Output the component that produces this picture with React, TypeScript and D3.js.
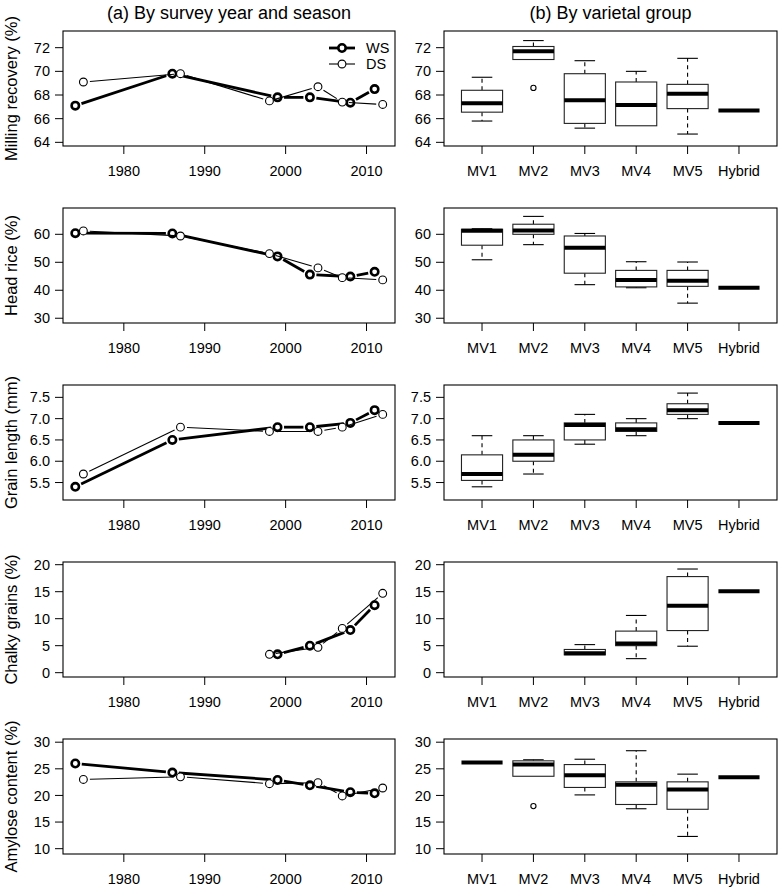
import React from "react";
import * as d3 from "d3";

// survey years (wet season / dry season)
const wsYears = [1974, 1986, 1999, 2003, 2008, 2011];
const dsYears = [1975, 1987, 1998, 2004, 2007, 2012];
const yearTicks = [1980, 1990, 2000, 2010];

const traitTitles = [
  "Milling recovery (%)",
  "Head rice (%)",
  "Grain length (mm)",
  "Chalky grains (%)",
  "Amylose content (%)",
];

// season means per survey year
const millingWS = [67.1, 69.8, 67.8, 67.8, 67.35, 68.5];
const millingDS = [69.1, 69.8, 67.5, 68.7, 67.4, 67.2];
const headWS = [60.4, 60.3, 52.1, 45.6, 44.9, 46.6];
const headDS = [61.2, 59.4, 53.1, 48.0, 44.5, 43.7];
const lengthWS = [5.4, 6.5, 6.8, 6.8, 6.9, 7.2];
const lengthDS = [5.7, 6.8, 6.7, 6.7, 6.8, 7.1];
const chalkyWS = [null, null, 3.4, 5.0, 7.9, 12.5];
const chalkyDS = [null, null, 3.4, 4.7, 8.2, 14.7];
const amyloseWS = [26.0, 24.3, 22.9, 21.9, 20.6, 20.4];
const amyloseDS = [23.0, 23.5, 22.2, 22.4, 19.9, 21.4];

const groups = ["MV1", "MV2", "MV3", "MV4", "MV5", "Hybrid"];

// boxplot stats: [lower whisker, Q1, median, Q3, upper whisker]
const millingBox = [
  [65.8, 66.55, 67.3, 68.4, 69.5],
  [71.0, 71.0, 71.7, 72.1, 72.6],
  [65.2, 65.6, 67.55, 69.8, 70.9],
  [65.4, 65.4, 67.15, 69.1, 70.0],
  [64.7, 66.85, 68.1, 68.9, 71.1],
  [66.7, 66.7, 66.7, 66.7, 66.7],
];
const millingOut = [[], [68.6], [], [], [], []];

const headBox = [
  [50.9, 56.1, 61.3, 61.8, 62.0],
  [56.3, 60.0, 61.4, 63.6, 66.4],
  [42.0, 46.1, 55.2, 59.4, 60.3],
  [40.9, 41.2, 43.7, 47.1, 50.2],
  [35.4, 41.4, 43.4, 47.1, 50.1],
  [40.9, 40.9, 40.9, 40.9, 40.9],
];
const headOut = [[], [], [], [], [], []];

const lengthBox = [
  [5.4, 5.55, 5.7, 6.15, 6.6],
  [5.7, 6.0, 6.15, 6.5, 6.6],
  [6.4, 6.5, 6.85, 6.9, 7.1],
  [6.6, 6.7, 6.75, 6.9, 7.0],
  [7.0, 7.1, 7.2, 7.35, 7.6],
  [6.9, 6.9, 6.9, 6.9, 6.9],
];
const lengthOut = [[], [], [], [], [], []];

const chalkyBox = [
  null,
  null,
  [3.3, 3.3, 3.6, 4.3, 5.2],
  [2.6, 5.0, 5.4, 7.7, 10.6],
  [4.9, 7.8, 12.4, 17.8, 19.2],
  [15.1, 15.1, 15.1, 15.1, 15.1],
];
const chalkyOut = [[], [], [], [], [], []];

const amyloseBox = [
  [26.2, 26.2, 26.2, 26.2, 26.2],
  [23.6, 23.6, 25.8, 26.5, 26.7],
  [20.1, 21.5, 23.8, 25.8, 26.8],
  [17.5, 18.3, 22.0, 22.55, 28.4],
  [12.3, 17.4, 21.1, 22.55, 24.0],
  [23.4, 23.4, 23.4, 23.4, 23.4],
];
const amyloseOut = [[], [18.0], [], [], [], []];

// y axis ranges and ticks for each row
const yDomains = [
  [63.69, 73.41],
  [28.3, 69.4],
  [5.09, 7.79],
  [-0.8, 20.5],
  [9.0, 30.6],
];
const yTicks = [
  [64, 66, 68, 70, 72],
  [30, 40, 50, 60],
  [5.5, 6.0, 6.5, 7.0, 7.5],
  [0, 5, 10, 15, 20],
  [10, 15, 20, 25, 30],
];
const yFormats = ["d", "d", ".1f", "d", "d"];

const rows = [
  { ws: millingWS, ds: millingDS, box: millingBox, out: millingOut },
  { ws: headWS, ds: headDS, box: headBox, out: headOut },
  { ws: lengthWS, ds: lengthDS, box: lengthBox, out: lengthOut },
  { ws: chalkyWS, ds: chalkyDS, box: chalkyBox, out: chalkyOut },
  { ws: amyloseWS, ds: amyloseDS, box: amyloseBox, out: amyloseOut },
];

const W = 780;
const H = 888;
const leftX = [63, 395];
const rightX = [444, 777];
const top0 = 31;
const panelH = 115;
const step = 177;
const font = "'Liberation Sans', Arial, Helvetica, sans-serif";

// R style type="b": segments with a gap around each point
function gapSegments(xs, ys, x, y, gap) {
  const segs = [];
  for (let i = 0; i < xs.length - 1; i++) {
    if (ys[i] == null || ys[i + 1] == null) continue;
    const x1 = x(xs[i]), y1 = y(ys[i]);
    const x2 = x(xs[i + 1]), y2 = y(ys[i + 1]);
    const len = Math.hypot(x2 - x1, y2 - y1);
    if (len <= 2 * gap) continue;
    const ux = (x2 - x1) / len, uy = (y2 - y1) / len;
    segs.push([x1 + ux * gap, y1 + uy * gap, x2 - ux * gap, y2 - uy * gap]);
  }
  return segs;
}

function SeriesLines({ xs, ys, x, y, thick }) {
  const segs = gapSegments(xs, ys, x, y, 6.5);
  return (
    <g>
      {segs.map((s, i) => (
        <line key={i} x1={s[0]} y1={s[1]} x2={s[2]} y2={s[3]}
          stroke="#000" strokeWidth={thick ? 2.8 : 1.1} />
      ))}
      {xs.map((xv, i) =>
        ys[i] == null ? null : (
          <circle key={"p" + i} cx={x(xv)} cy={y(ys[i])} r={thick ? 3.7 : 3.9}
            fill="#fff" stroke="#000" strokeWidth={thick ? 2.6 : 1.1} />
        )
      )}
    </g>
  );
}

function YAxis({ y, ticks, fmt, x0 }) {
  const f = d3.format(fmt);
  return (
    <g>
      {ticks.map((t) => (
        <g key={t}>
          <line x1={x0 - 8} x2={x0} y1={y(t)} y2={y(t)} stroke="#000" strokeWidth={1} />
          <text x={x0 - 13} y={y(t)} dy="0.35em" textAnchor="end" fontSize={14.5}
            fontFamily={font}>{f(t)}</text>
        </g>
      ))}
    </g>
  );
}

function LeftPanel({ row, idx }) {
  const top = top0 + idx * step;
  const bottom = top + panelH;
  const x = d3.scaleLinear().domain([1972.48, 2013.52]).range(leftX);
  const y = d3.scaleLinear().domain(yDomains[idx]).range([bottom, top]);
  const cy = (top + bottom) / 2;
  return (
    <g>
      <rect x={leftX[0]} y={top} width={leftX[1] - leftX[0]} height={panelH}
        fill="none" stroke="#000" strokeWidth={1.1} />
      <YAxis y={y} ticks={yTicks[idx]} fmt={yFormats[idx]} x0={leftX[0]} />
      {yearTicks.map((t) => (
        <g key={t}>
          <line x1={x(t)} x2={x(t)} y1={bottom} y2={bottom + 8} stroke="#000" />
          <text x={x(t)} y={bottom + 30} textAnchor="middle" fontSize={14.5}
            fontFamily={font}>{t}</text>
        </g>
      ))}
      <text transform={`translate(11,${cy}) rotate(-90)`} textAnchor="middle"
        dy="0.35em" fontSize={16.5} fontFamily={font}>{traitTitles[idx]}</text>
      <SeriesLines xs={wsYears} ys={row.ws} x={x} y={y} thick={true} />
      <SeriesLines xs={dsYears} ys={row.ds} x={x} y={y} thick={false} />
      {idx === 0 && (
        <g fontFamily={font} fontSize={14.5}>
          <line x1={329} x2={355} y1={top + 17} y2={top + 17} stroke="#000" strokeWidth={2.8} />
          <circle cx={342} cy={top + 17} r={3.7} fill="#fff" stroke="#000" strokeWidth={2.6} />
          <text x={366} y={top + 17} dy="0.35em">WS</text>
          <line x1={329} x2={355} y1={top + 33} y2={top + 33} stroke="#000" strokeWidth={1.1} />
          <circle cx={342} cy={top + 33} r={3.9} fill="#fff" stroke="#000" strokeWidth={1.1} />
          <text x={366} y={top + 33} dy="0.35em">DS</text>
        </g>
      )}
    </g>
  );
}

function RightPanel({ row, idx }) {
  const top = top0 + idx * step;
  const bottom = top + panelH;
  const x = d3.scaleLinear().domain([0.26, 6.74]).range(rightX);
  const y = d3.scaleLinear().domain(yDomains[idx]).range([bottom, top]);
  const unit = x(1) - x(0);
  const bw = 0.8 * unit;
  const cw = 0.4 * unit;
  return (
    <g>
      <rect x={rightX[0]} y={top} width={rightX[1] - rightX[0]} height={panelH}
        fill="none" stroke="#000" strokeWidth={1.1} />
      <YAxis y={y} ticks={yTicks[idx]} fmt={yFormats[idx]} x0={rightX[0]} />
      {groups.map((g, i) => (
        <g key={g}>
          <line x1={x(i + 1)} x2={x(i + 1)} y1={bottom} y2={bottom + 8} stroke="#000" />
          <text x={x(i + 1)} y={bottom + 30} textAnchor="middle" fontSize={14.5}
            fontFamily={font}>{g}</text>
        </g>
      ))}
      {row.box.map((s, i) => {
        if (!s) return null;
        const cx = x(i + 1);
        const [lo, q1, med, q3, hi] = s;
        return (
          <g key={i}>
            {hi > q3 && (
              <g>
                <line x1={cx} x2={cx} y1={y(q3)} y2={y(hi)} stroke="#000"
                  strokeWidth={1.1} strokeDasharray="4,3.5" />
                <line x1={cx - cw / 2} x2={cx + cw / 2} y1={y(hi)} y2={y(hi)}
                  stroke="#000" strokeWidth={1.1} />
              </g>
            )}
            {lo < q1 && (
              <g>
                <line x1={cx} x2={cx} y1={y(q1)} y2={y(lo)} stroke="#000"
                  strokeWidth={1.1} strokeDasharray="4,3.5" />
                <line x1={cx - cw / 2} x2={cx + cw / 2} y1={y(lo)} y2={y(lo)}
                  stroke="#000" strokeWidth={1.1} />
              </g>
            )}
            {q3 > q1 && (
              <rect x={cx - bw / 2} y={y(q3)} width={bw} height={y(q1) - y(q3)}
                fill="#fff" stroke="#222" strokeWidth={1.1} />
            )}
            <line x1={cx - bw / 2} x2={cx + bw / 2} y1={y(med)} y2={y(med)}
              stroke="#000" strokeWidth={4} />
            {row.out[i].map((o, j) => (
              <circle key={j} cx={cx} cy={y(o)} r={2.6} fill="none" stroke="#000"
                strokeWidth={1.1} />
            ))}
          </g>
        );
      })}
    </g>
  );
}

export default function App() {
  return (
    <svg width={W} height={H} viewBox={`0 0 ${W} ${H}`}
      style={{ position: "absolute", left: 0, top: 0, background: "#fff" }}>
      <rect width={W} height={H} fill="#fff" />
      <text x={(leftX[0] + leftX[1]) / 2} y={19} textAnchor="middle" fontSize={18}
        fontFamily={font}>(a) By survey year and season</text>
      <text x={(rightX[0] + rightX[1]) / 2} y={19} textAnchor="middle" fontSize={18}
        fontFamily={font}>(b) By varietal group</text>
      {rows.map((row, i) => (
        <g key={i}>
          <LeftPanel row={row} idx={i} />
          <RightPanel row={row} idx={i} />
        </g>
      ))}
    </svg>
  );
}
